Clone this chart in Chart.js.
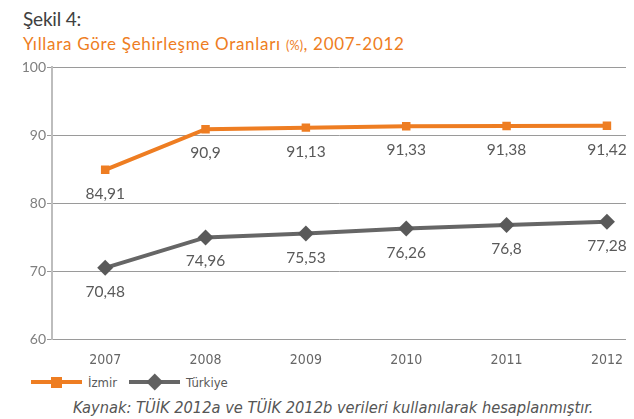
<!DOCTYPE html>
<html>
<head>
<meta charset="utf-8">
<script src="https://cdn.jsdelivr.net/npm/chart.js@4"></script>
<style>
  body { margin: 0; width: 634px; height: 419px; overflow: hidden; background: #fff; position: relative; }
  #t1 { position: absolute; left: 23px; top: 7px; font: 19px Lato, sans-serif; color: #404040; letter-spacing: -0.2px; }
  #t2 { position: absolute; left: 23px; top: 33px; font: 17px Lato, sans-serif; color: #ee7d22; white-space: nowrap; letter-spacing: 0.7px; }
  #t2 small { font-size: 12.5px; letter-spacing: 0.3px; }
  #wrap { position: absolute; left: 0; top: 58px; width: 634px; height: 307px; }
  #legend { position: absolute; left: 31px; top: 373px; height: 18px; font: 13px "DejaVu Sans Condensed", "DejaVu Sans", sans-serif; color: #595959; display: flex; align-items: center; }
  .ln { width: 51px; height: 4px; position: relative; margin-right: 6px; }
  .ln i { position: absolute; left: 50%; top: 50%; }
  .sq i { width: 11px; height: 11px; margin: -5.5px 0 0 -5.5px; background: #ee7d22; }
  .dm i { width: 11.5px; height: 11.5px; margin: -5.75px 0 0 -5.75px; background: #606060; transform: rotate(45deg); }
  #src { position: absolute; left: 73px; top: 398px; white-space: nowrap; font: italic 16.3px "DejaVu Sans Condensed", "DejaVu Sans", sans-serif; color: #555; }
</style>
</head>
<body>
<div id="t1">Şekil 4:</div>
<div id="t2">Yıllara Göre Şehirleşme Oranları <small>(%)</small>, 2007-2012</div>
<div id="wrap"><canvas id="myChart" width="634" height="307"></canvas></div>
<div id="legend">
  <span class="ln sq" style="background:#ee7d22"><i></i></span><span style="margin-right:12px">İzmir</span>
  <span class="ln dm" style="background:#666"><i></i></span><span>Türkiye</span>
</div>
<div id="src">Kaynak: TÜİK 2012a ve TÜİK 2012b verileri kullanılarak hesaplanmıştır.</div>
<script>
const years = ['2007', '2008', '2009', '2010', '2011', '2012']
const izmir = [84.91, 90.9, 91.13, 91.33, 91.38, 91.42]
const turkiye = [70.48, 74.96, 75.53, 76.26, 76.8, 77.28]
const yTicks = [60, 70, 80, 90, 100]

// values written under each point, with a comma
const pointLabels = {
  id: 'pointLabels',
  afterDatasetsDraw(chart) {
    const ctx = chart.ctx
    ctx.save()
    ctx.font = '15.5px Lato, sans-serif'
    ctx.fillStyle = '#595959'
    ctx.textAlign = 'center'
    ctx.textBaseline = 'middle'
    chart.data.datasets.forEach((ds, i) => {
      chart.getDatasetMeta(i).data.forEach((pt, j) => {
        ctx.fillText(String(ds.data[j].y).replace('.', ','), pt.x, pt.y + 24)
      })
    })
    ctx.restore()
  }
}

const toPoints = arr => arr.map((v, i) => ({ x: i, y: v }))

const ctx = document.getElementById('myChart')
new Chart(ctx, {
  type: 'line',
  data: {
    datasets: [{
      label: 'İzmir',
      data: toPoints(izmir),
      borderColor: '#ee7d22',
      backgroundColor: '#ee7d22',
      borderWidth: 4,
      pointStyle: 'rect',
      pointRadius: 6,
      pointBorderWidth: 0,
      tension: 0
    }, {
      label: 'Türkiye',
      data: toPoints(turkiye),
      borderColor: '#666666',
      backgroundColor: '#595959',
      borderWidth: 4,
      pointStyle: 'rectRot',
      pointRadius: 8,
      pointBorderWidth: 0,
      tension: 0
    }]
  },
  options: {
    responsive: false,
    animation: false,
    layout: { padding: { top: 8, right: 2, left: 0, bottom: 0 } },
    plugins: { legend: { display: false }, tooltip: { enabled: false } },
    scales: {
      x: {
        type: 'linear',
        min: -0.53,
        max: 5.19,
        afterBuildTicks(scale) { scale.ticks = years.map((y, i) => ({ value: i })) },
        grid: { display: false },
        border: { display: false },
        ticks: {
          color: '#666', padding: 5,
          font: { size: 14, family: '"DejaVu Sans Condensed", "DejaVu Sans", sans-serif' },
          callback: v => years[v]
        },
        afterFit(scale) { scale.height = 26 }
      },
      y: {
        min: 60,
        max: 100,
        afterBuildTicks(scale) { scale.ticks = yTicks.map(v => ({ value: v })) },
        grid: { color: '#9a9a9a', lineWidth: 1, tickLength: 5 },
        border: { color: '#bdbdbd', width: 2 },
        ticks: { color: '#7f7f7f', padding: 1, font: { size: 14, family: 'Lato, sans-serif' } },
        afterFit(scale) { scale.width = 52 }
      }
    }
  },
  plugins: [pointLabels]
})
</script>
</body>
</html>
